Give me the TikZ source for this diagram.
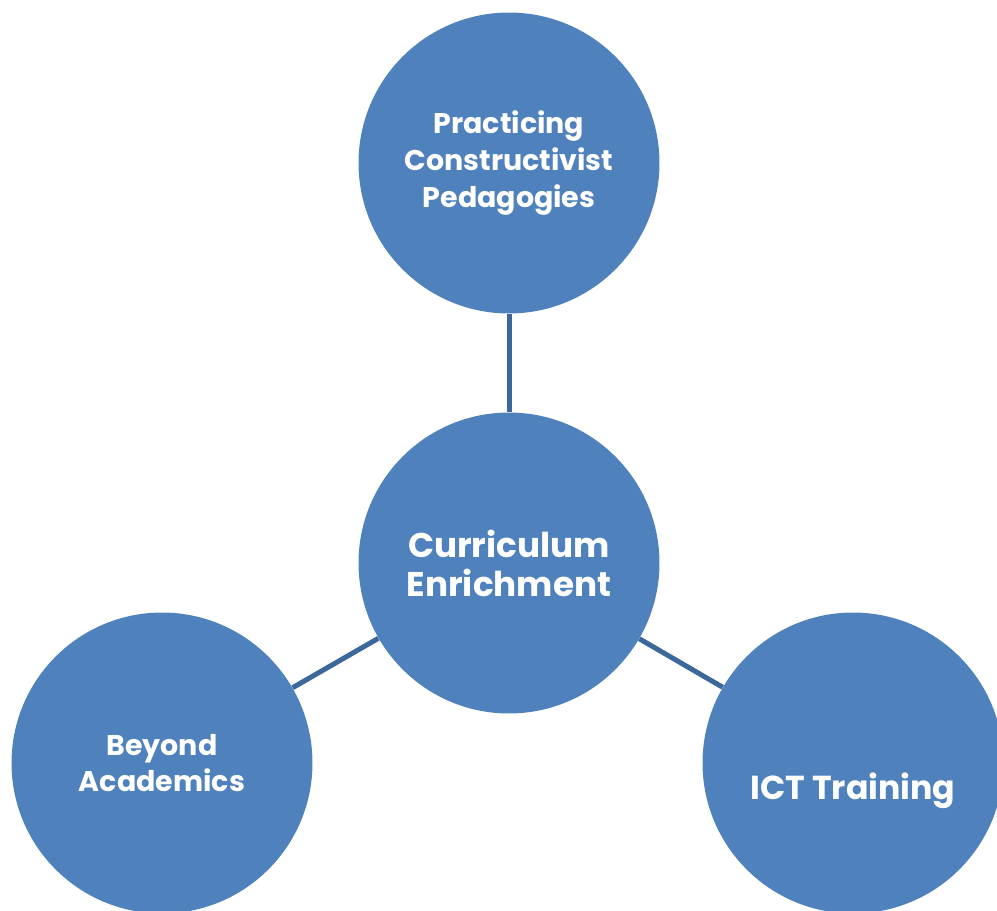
\documentclass[tikz,border=0pt]{standalone}
\usepackage{fontspec}
\setmainfont{Poppins}
\definecolor{bubblefill}{HTML}{4F81BD}
\definecolor{spokeline}{HTML}{3C679B}
\tikzset{
  bubble/.style={circle, fill=bubblefill, minimum size=6.02cm, inner sep=0pt,
    align=center, text=white, font=\bfseries\fontsize{16.2}{20.8}\selectfont},
  bigtext/.style={font=\bfseries\fontsize{19.5}{22.2}\selectfont},
  spoke/.style={draw=spokeline, line width=0.1cm}
}
\begin{document}
\begin{tikzpicture}[x=0.02cm,y=-0.02cm]
    \useasboundingbox (0,0) rectangle (997,910);
    \clip (0,0) rectangle (997,910);

    \node[bubble, bigtext] (hub) at (509,563) {Curriculum\\Enrichment};
    \node[bubble] (pedagogy) at (509,163) {Practicing\\Constructivist\\Pedagogies};
    \node[bubble] (beyond) at (162,763) {Beyond\\Academics};
    \node[bubble] (ict) at (853,763) {};
    \node[text=white, bigtext, font=\bfseries\fontsize{18.9}{22}\selectfont] (icttext) at (853,791) {ICT Training};

    \draw[spoke] (hub) -- (pedagogy);
    \draw[spoke] (hub) -- (beyond);
    \draw[spoke] (hub) -- (ict);
\end{tikzpicture}
\end{document}
